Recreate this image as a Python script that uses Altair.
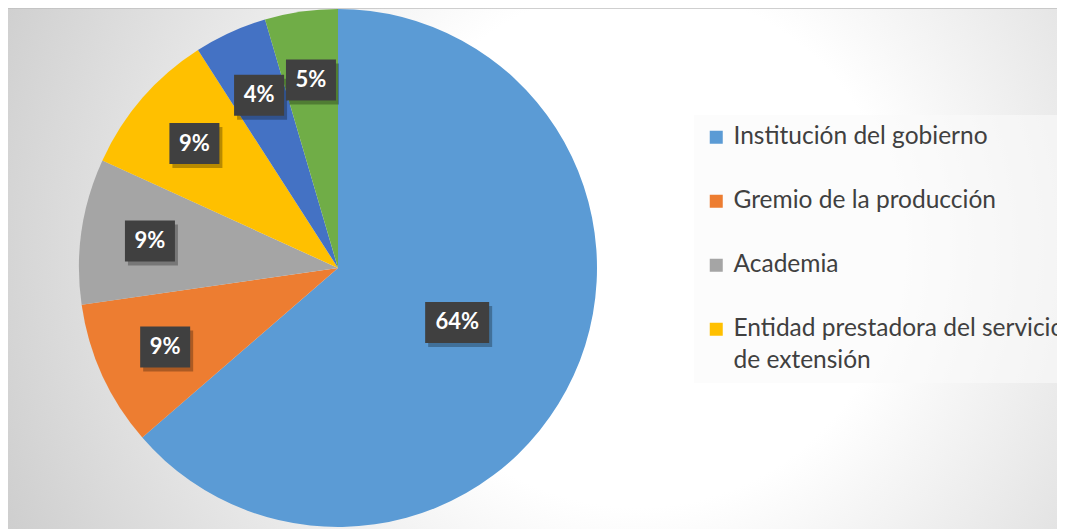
import altair as alt
import pandas as pd

# ---- data ----
categories = [
    "Institución del gobierno",
    "Gremio de la producción",
    "Academia",
    "Entidad prestadora del servicio de extensión",
    "Organización de productores",
    "Otro",
]
counts = [14, 2, 2, 2, 1, 1]
pct_labels = ["64%", "9%", "9%", "9%", "4%", "5%"]
colors = ["#5B9BD5", "#ED7D31", "#A5A5A5", "#FFC000", "#4472C4", "#70AD47"]
legend_shown = categories[:4]

df = pd.DataFrame({
    "idx": list(range(len(categories))),
    "categoria": categories,
    "valor": counts,
    "etiqueta": pct_labels,
})

W, H = 1049, 521
CX, CY, R = 330, 260, 259

bg_gradient = alt.RadialGradient(
    gradient="radial", x1=0.6, y1=0.48, r1=0, x2=0.6, y2=0.48, r2=0.75,
    stops=[
        alt.GradientStop(color="#ffffff", offset=0),
        alt.GradientStop(color="#ffffff", offset=0.33),
        alt.GradientStop(color="#c3c3c3", offset=1),
    ],
)

bg = alt.Chart(pd.DataFrame({"a": [0]})).mark_rect(fill=bg_gradient).encode(
    x=alt.value(0), x2=alt.value(W), y=alt.value(0), y2=alt.value(H)
)
top_line = alt.Chart(pd.DataFrame({"a": [0]})).mark_rule(
    color="#bfbfbf", strokeWidth=1.5
).encode(x=alt.value(0), x2=alt.value(W), y=alt.value(0))

label_expr = ("datum.label == 'Entidad prestadora del servicio de extensión' ? "
              "['Entidad prestadora del servicio', 'de extensión'] : datum.label")

base = alt.Chart(df)

pie = base.mark_arc(radius=R, strokeWidth=0).encode(
    theta=alt.Theta("valor:Q", stack=True),
    color=alt.Color(
        "categoria:N",
        scale=alt.Scale(domain=categories, range=colors),
        legend=alt.Legend(
            title=None, orient="none", legendX=686, legendY=107,
            values=legend_shown, symbolType="square", symbolSize=169,
            symbolStrokeWidth=0, labelFont="Lato", labelFontSize=24.5,
            labelColor="#404040", labelLimit=0, labelOffset=5,
            rowPadding=39, padding=10, fillColor="rgba(250,250,250,0.6)",
            labelExpr=label_expr,
        ),
    ),
    order=alt.Order("idx:Q"),
    x=alt.value(CX),
    y=alt.value(CY),
)

lab = base.transform_joinaggregate(total="sum(valor)").transform_window(
    cum="sum(valor)", sort=[alt.SortField("idx")], frame=[None, 0]
).transform_calculate(
    mid="(datum.cum - datum.valor/2) / datum.total * 2 * PI",
    rr="datum.valor / datum.total > 0.3 ? 131 : 190",
    lx=f"{CX} + datum.rr * sin(datum.mid)",
    ly=f"{CY} - datum.rr * cos(datum.mid)",
    bw="14 * length(datum.etiqueta) + 22",
    bx1="datum.lx - datum.bw / 2",
    bx2="datum.lx + datum.bw / 2",
    by1="datum.ly - 20.5",
    by2="datum.ly + 20.5",
)

box_enc = dict(
    x=alt.X("bx1:Q", scale=None, axis=None),
    x2="bx2:Q",
    y=alt.Y("by1:Q", scale=None, axis=None),
    y2="by2:Q",
)
shadow = lab.mark_rect(color="#000000", opacity=0.28, xOffset=3, x2Offset=3,
                       yOffset=4, y2Offset=4).encode(**box_enc)
box = lab.mark_rect(color="#404040").encode(**box_enc)
txt = lab.mark_text(font="Lato", fontWeight="bold", fontSize=22,
                    color="#ffffff", baseline="middle").encode(
    x=alt.X("lx:Q", scale=None, axis=None),
    y=alt.Y("ly:Q", scale=None, axis=None),
    text="etiqueta:N",
)

chart = alt.layer(bg, top_line, pie, shadow, box, txt).properties(
    width=W, height=H, autosize=alt.AutoSizeParams(type="none"), padding=0,
    background="#ffffff",
).configure_view(strokeWidth=0).configure(
    style={"guide-label": {"lineHeight": 32}}
)

chart.save("out.html", embed_options={"renderer": "svg", "actions": False})
